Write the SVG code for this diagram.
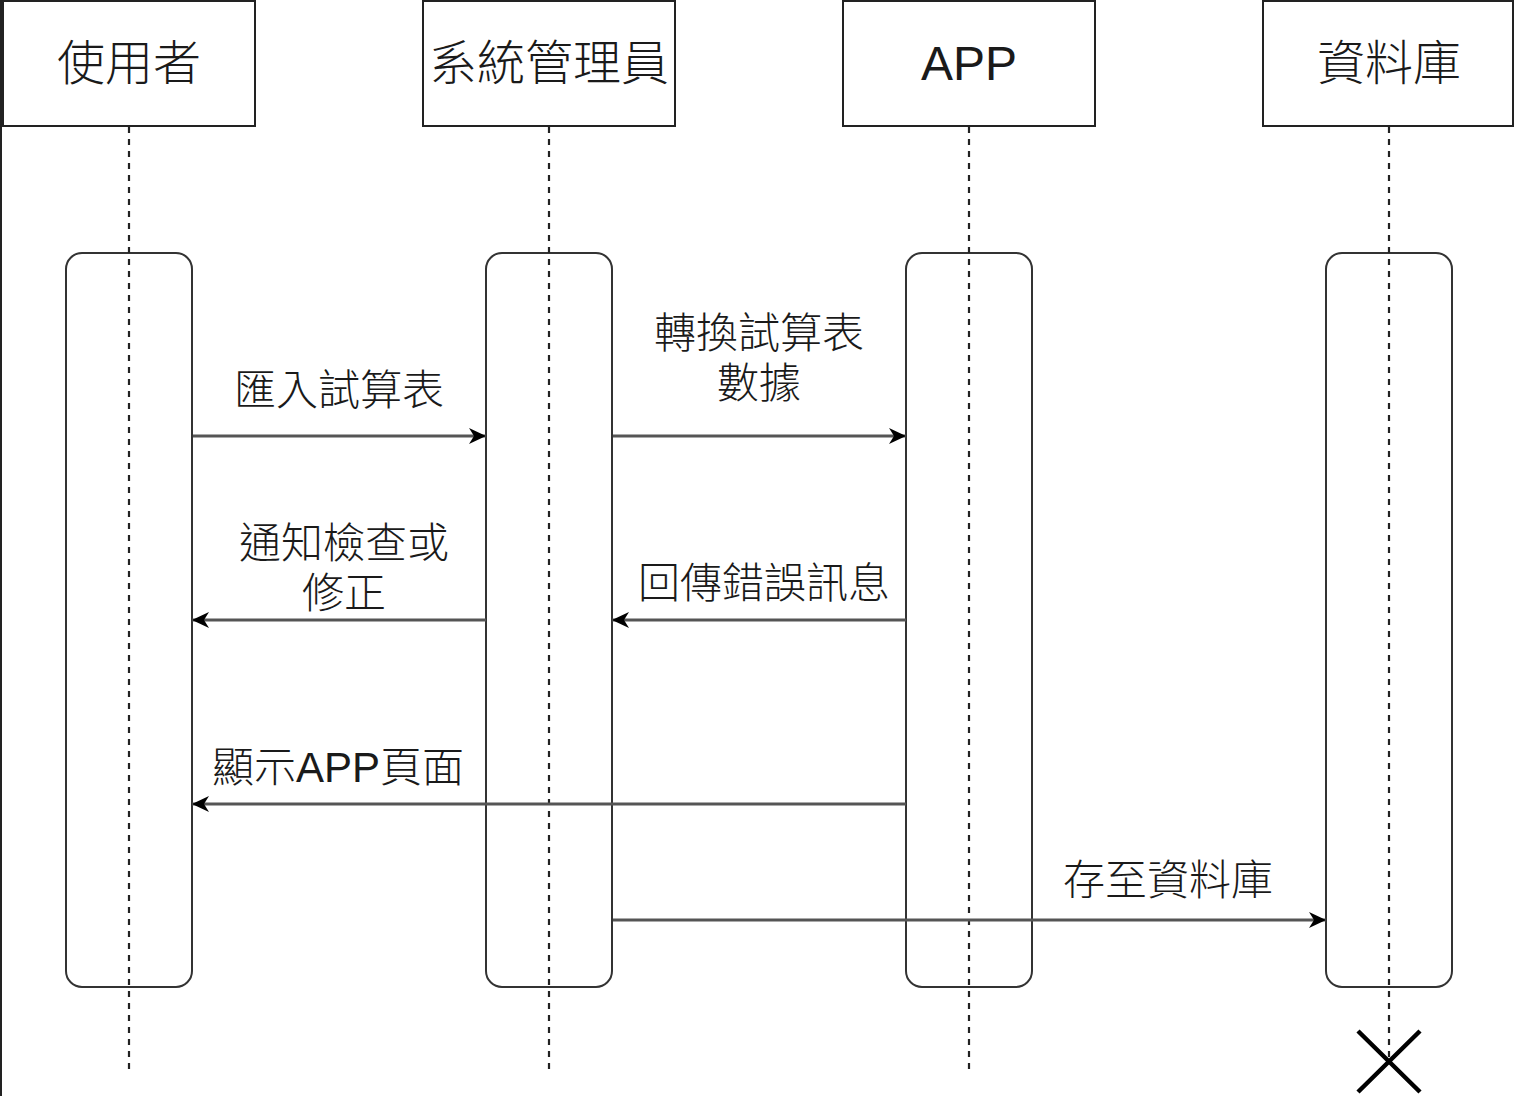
<svg xmlns="http://www.w3.org/2000/svg" width="1514" height="1096" viewBox="0 0 1514 1096">
  <style>
    .head { fill: #ffffff; stroke: #222222; stroke-width: 2; }
    .act { fill: #ffffff; stroke: #333333; stroke-width: 2; }
    .life { fill: none; stroke: #222222; stroke-width: 2.2; stroke-dasharray: 6 6; }
    .msg { fill: none; stroke: #555555; stroke-width: 3; }
    .title { font-family: "Liberation Sans", "Noto Sans CJK TC", sans-serif; font-size: 48px; font-weight: 300; fill: #1a1a1a; text-anchor: middle; }
    .label { font-family: "Liberation Sans", "Noto Sans CJK TC", sans-serif; font-size: 42px; font-weight: 300; fill: #1a1a1a; text-anchor: middle; }
  </style>
  <defs>
    <marker id="arrow" markerUnits="userSpaceOnUse" markerWidth="18" markerHeight="16" refX="17" refY="8" orient="auto">
      <path d="M0,0 L17,8 L0,16 L5,8 Z" fill="#000000"/>
    </marker>
  </defs>

  <rect width="1514" height="1096" fill="#ffffff"/>
  <line x1="1" y1="0" x2="1" y2="1096" stroke="#222222" stroke-width="2"/>

  <!-- participant: 使用者 -->
  <g id="user">
    <rect class="head" x="3" y="1" width="252" height="125"/>
    <text class="title" x="129" y="80">使用者</text>
    <rect class="act" x="66" y="253" width="126" height="734" rx="16"/>
    <line class="life" x1="129" y1="127" x2="129" y2="1074"/>
  </g>

  <!-- participant: 系統管理員 -->
  <g id="admin">
    <rect class="head" x="423" y="1" width="252" height="125"/>
    <text class="title" x="549" y="80">系統管理員</text>
    <rect class="act" x="486" y="253" width="126" height="734" rx="16"/>
    <line class="life" x1="549" y1="127" x2="549" y2="1074"/>
  </g>

  <!-- participant: APP -->
  <g id="app">
    <rect class="head" x="843" y="1" width="252" height="125"/>
    <text class="title" x="969" y="80">APP</text>
    <rect class="act" x="906" y="253" width="126" height="734" rx="16"/>
    <line class="life" x1="969" y1="127" x2="969" y2="1074"/>
  </g>

  <!-- participant: 資料庫 -->
  <g id="database">
    <rect class="head" x="1263" y="1" width="250" height="125"/>
    <text class="title" x="1389" y="80">資料庫</text>
    <rect class="act" x="1326" y="253" width="126" height="734" rx="16"/>
    <line class="life" x1="1389" y1="127" x2="1389" y2="1060"/>
    <!-- destruction mark -->
    <path d="M1358,1031 L1420,1092 M1420,1031 L1358,1092" stroke="#000000" stroke-width="4.5" fill="none"/>
  </g>

  <!-- messages -->
  <g id="connectors">
    <line class="msg" x1="193" y1="436" x2="486" y2="436" marker-end="url(#arrow)"/>
    <line class="msg" x1="613" y1="436" x2="906" y2="436" marker-end="url(#arrow)"/>
    <line class="msg" x1="486" y1="620" x2="192" y2="620" marker-end="url(#arrow)"/>
    <line class="msg" x1="906" y1="620" x2="612" y2="620" marker-end="url(#arrow)"/>
    <line class="msg" x1="906" y1="804" x2="192" y2="804" marker-end="url(#arrow)"/>
    <line class="msg" x1="613" y1="920" x2="1326" y2="920" marker-end="url(#arrow)"/>
  </g>

  <!-- message labels -->
  <g id="labels">
    <text class="label" x="339" y="405">匯入試算表</text>
    <text class="label" x="759" y="348">轉換試算表</text>
    <text class="label" x="759" y="398">數據</text>
    <text class="label" x="344" y="558">通知檢查或</text>
    <text class="label" x="344" y="608">修正</text>
    <text class="label" x="764" y="598">回傳錯誤訊息</text>
    <text class="label" x="338" y="782">顯示APP頁面</text>
    <text class="label" x="1168" y="895">存至資料庫</text>
  </g>
</svg>
